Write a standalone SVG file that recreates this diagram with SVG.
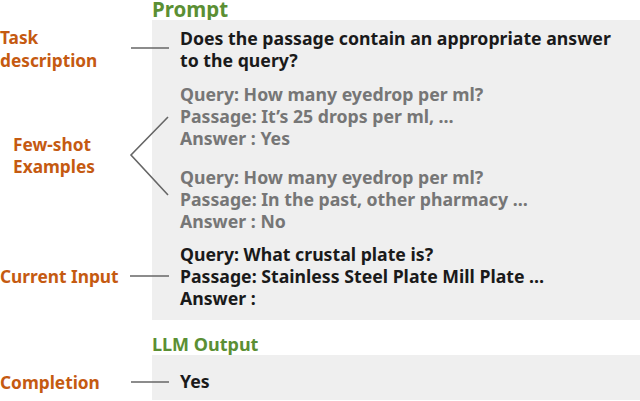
<svg xmlns="http://www.w3.org/2000/svg" width="640" height="401" viewBox="0 0 640 401">
<style>
text{font-family:"Noto Sans","Open Sans","DejaVu Sans",sans-serif;font-weight:bold;font-size:17.7px}
.lab{fill:#c55a11;font-size:17.3px}
.ttl{fill:#5b8f34}
.blk{fill:#1a1a1a}
.gry{fill:#767676}
.box{fill:#efefef}
.con{stroke:#666;stroke-width:1.6;fill:none}
</style>
<rect width="640" height="401" fill="#fff"/>
<g id="prompt">
<text class="ttl" x="152" y="17" style="font-size:20.5px">Prompt</text>
<rect class="box" x="152" y="20" width="488" height="300"/>
<text class="blk" x="180" y="45">Does the passage contain an appropriate answer</text>
<text class="blk" x="180" y="67">to the query?</text>
<text class="gry" x="180" y="101">Query: How many eyedrop per ml?</text>
<text class="gry" x="180" y="123">Passage: It’s 25 drops per ml, …</text>
<text class="gry" x="180" y="145">Answer : Yes</text>
<text class="gry" x="180" y="184">Query: How many eyedrop per ml?</text>
<text class="gry" x="180" y="206">Passage: In the past, other pharmacy …</text>
<text class="gry" x="180" y="228">Answer : No</text>
<text class="blk" x="180" y="261">Query: What crustal plate is?</text>
<text class="blk" x="180" y="283">Passage: Stainless Steel Plate Mill Plate …</text>
<text class="blk" x="180" y="305">Answer :</text>
</g>
<g id="output">
<text class="ttl" x="152" y="351" style="font-size:18px">LLM Output</text>
<rect class="box" x="152" y="355" width="488" height="45"/>
<text class="blk" x="180" y="388">Yes</text>
</g>
<g id="labels">
<text class="lab" x="0" y="44">Task</text>
<text class="lab" x="0" y="67">description</text>
<text class="lab" x="13" y="151">Few-shot</text>
<text class="lab" x="13" y="173">Examples</text>
<text class="lab" x="0" y="283">Current Input</text>
<text class="lab" x="0" y="389">Completion</text>
</g>
<g id="connectors">
<line class="con" x1="131" y1="48" x2="169" y2="48"/>
<polyline class="con" points="168,117 131,155 168,195"/>
<line class="con" x1="130" y1="276" x2="169" y2="276"/>
<line class="con" x1="131" y1="382" x2="169" y2="382"/>
</g>
</svg>
